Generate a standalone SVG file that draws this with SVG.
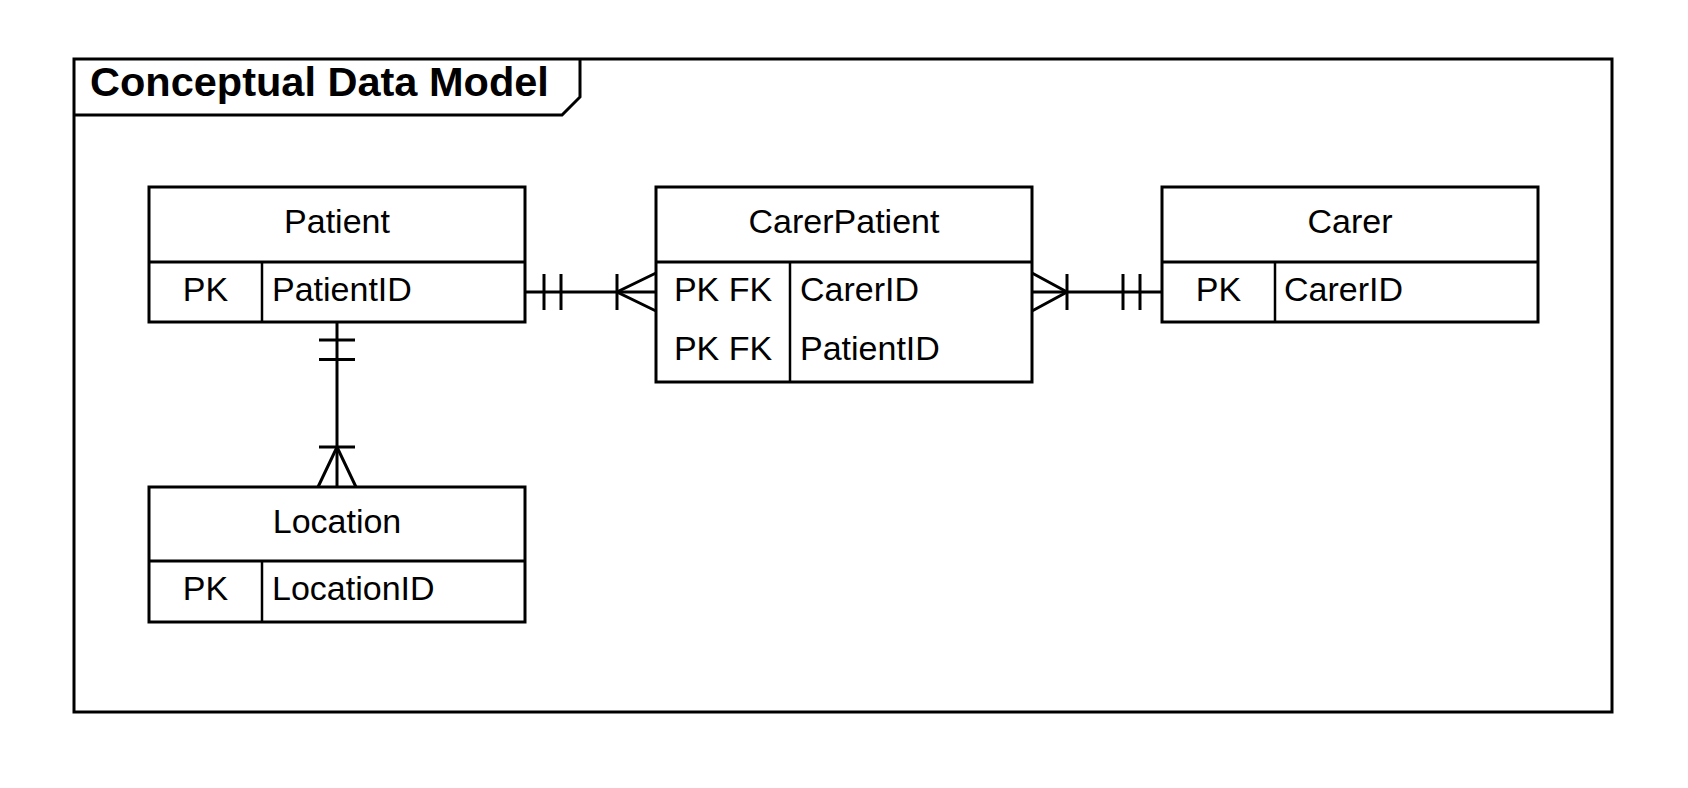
<svg xmlns="http://www.w3.org/2000/svg" width="1688" height="788" viewBox="0 0 1688 788">
<style>
.bg{fill:#ffffff}
.box{fill:#ffffff;stroke:#000;stroke-width:3}
.ln{fill:none;stroke:#000;stroke-width:3}
.div{fill:none;stroke:#000;stroke-width:2.5}
.t{font-family:"Liberation Sans",Arial,sans-serif;font-size:34px;fill:#000}
.c{text-anchor:middle}
.title{font-family:"Liberation Sans",Arial,sans-serif;font-size:41.5px;font-weight:bold;fill:#000}
</style>
<rect class="bg" x="0" y="0" width="1688" height="788"/>
<g id="frame">
<rect class="ln" x="74" y="59" width="1538" height="653"/>
<polyline class="ln" points="74,115 562,115 580,97 580,59"/>
<text class="title" x="90" y="96">Conceptual Data Model</text>
</g>
<g id="connectors">
<g id="patient-carerpatient">
<line class="ln" x1="525" y1="292" x2="656" y2="292"/>
<line class="ln" x1="544" y1="274" x2="544" y2="310"/>
<line class="ln" x1="561" y1="274" x2="561" y2="310"/>
<line class="ln" x1="617" y1="274" x2="617" y2="310"/>
<polyline class="ln" points="656,273 617,292 656,311"/>
</g>
<g id="carerpatient-carer">
<line class="ln" x1="1032" y1="292" x2="1162" y2="292"/>
<line class="ln" x1="1067" y1="274" x2="1067" y2="310"/>
<line class="ln" x1="1123" y1="274" x2="1123" y2="310"/>
<line class="ln" x1="1140" y1="274" x2="1140" y2="310"/>
<polyline class="ln" points="1032,273 1067,292 1032,311"/>
</g>
<g id="patient-location">
<line class="ln" x1="337" y1="322" x2="337" y2="487"/>
<line class="ln" x1="319" y1="340" x2="355" y2="340"/>
<line class="ln" x1="319" y1="359.5" x2="355" y2="359.5"/>
<line class="ln" x1="319" y1="447" x2="355" y2="447"/>
<polyline class="ln" points="318,487 337,447 356,487"/>
</g>
</g>
<g id="patient">
<rect class="box" x="149" y="187" width="376" height="135"/>
<line class="ln" x1="149" y1="262" x2="525" y2="262"/>
<line class="div" x1="262" y1="262" x2="262" y2="322"/>
<text class="t c" x="337" y="233">Patient</text>
<text class="t c" x="205.5" y="301">PK</text>
<text class="t" x="272" y="301">PatientID</text>
</g>
<g id="carerpatient">
<rect class="box" x="656" y="187" width="376" height="195"/>
<line class="ln" x1="656" y1="262" x2="1032" y2="262"/>
<line class="div" x1="790" y1="262" x2="790" y2="382"/>
<text class="t c" x="844" y="233">CarerPatient</text>
<text class="t c" x="723" y="301">PK FK</text>
<text class="t" x="800" y="301">CarerID</text>
<text class="t c" x="723" y="360">PK FK</text>
<text class="t" x="800" y="360">PatientID</text>
</g>
<g id="carer">
<rect class="box" x="1162" y="187" width="376" height="135"/>
<line class="ln" x1="1162" y1="262" x2="1538" y2="262"/>
<line class="div" x1="1275" y1="262" x2="1275" y2="322"/>
<text class="t c" x="1350" y="233">Carer</text>
<text class="t c" x="1218.5" y="301">PK</text>
<text class="t" x="1284" y="301">CarerID</text>
</g>
<g id="location">
<rect class="box" x="149" y="487" width="376" height="135"/>
<line class="ln" x1="149" y1="561" x2="525" y2="561"/>
<line class="div" x1="262" y1="561" x2="262" y2="622"/>
<text class="t c" x="337" y="533">Location</text>
<text class="t c" x="205.5" y="600">PK</text>
<text class="t" x="272" y="600">LocationID</text>
</g>
</svg>
